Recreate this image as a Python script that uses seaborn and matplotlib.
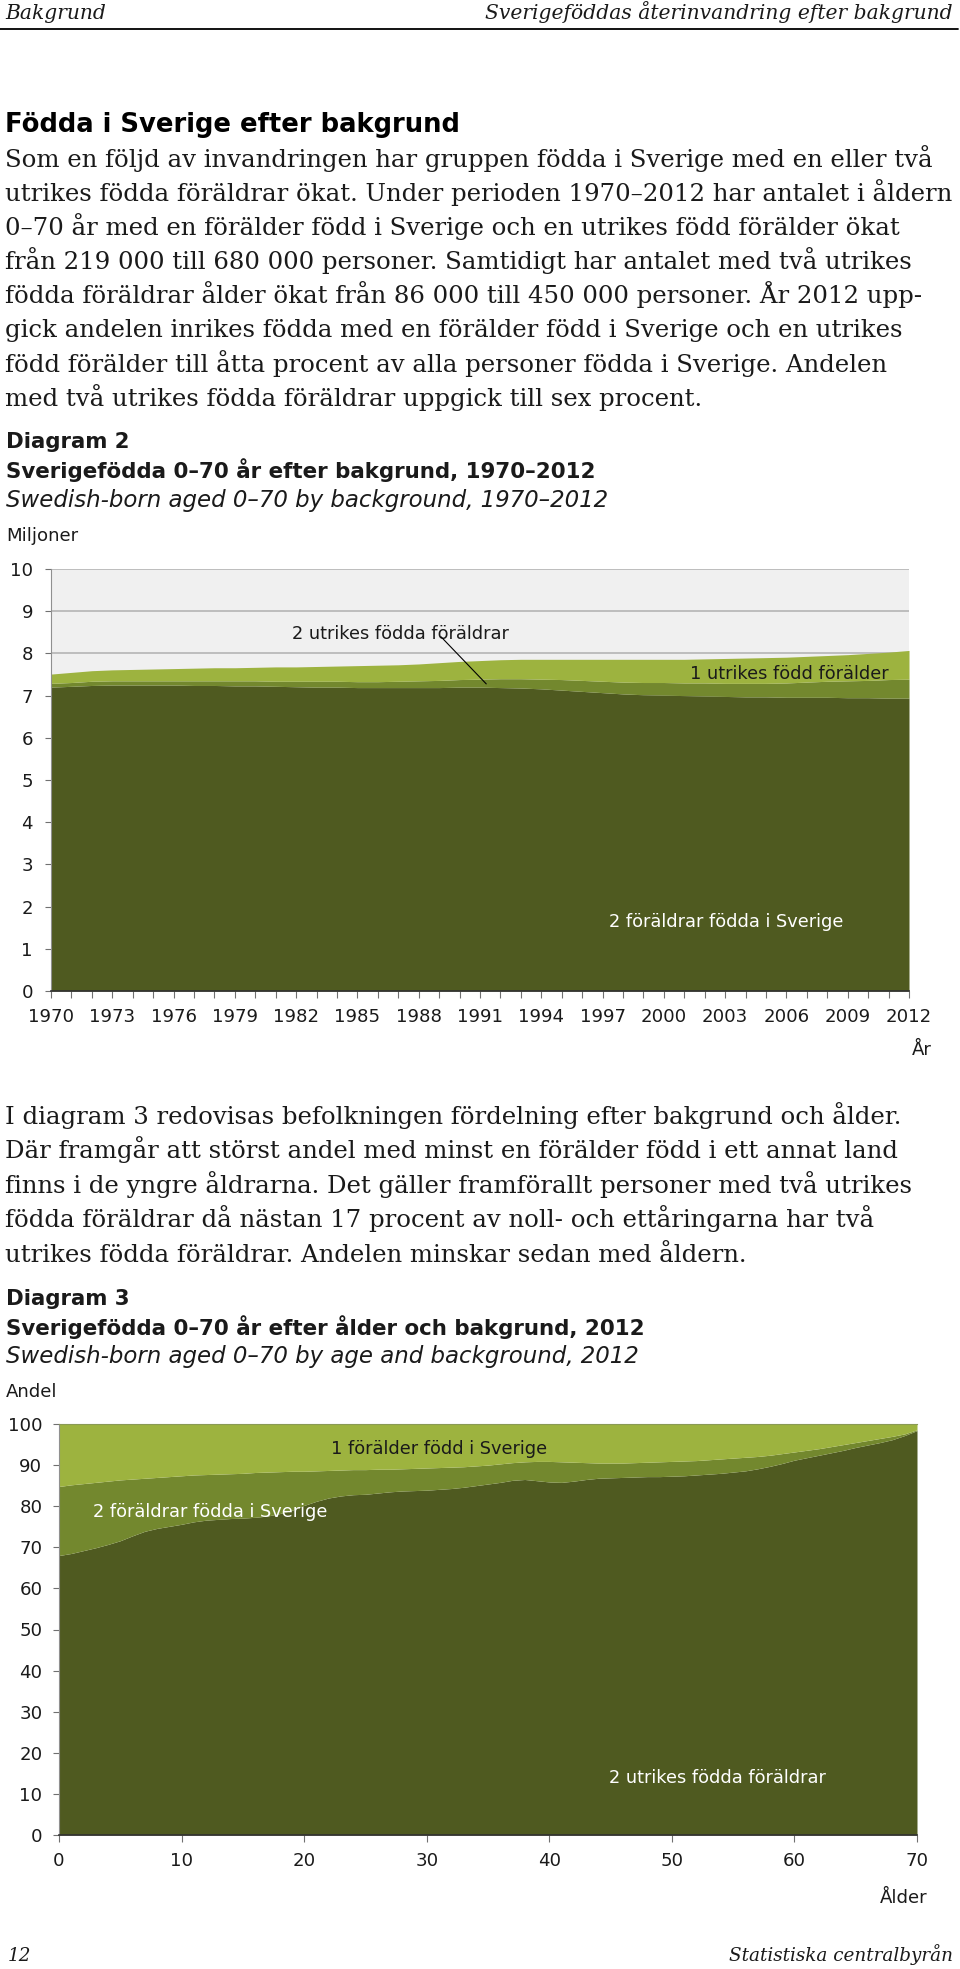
import numpy as np
import matplotlib
matplotlib.use("Agg")
import matplotlib.pyplot as plt
from matplotlib.lines import Line2D
from matplotlib.ticker import MultipleLocator
import seaborn as sns

# Diagram 2: Swedish-born aged 0-70 by background (millions)
years = list(range(1970, 2013))
two_swedish = [7.20, 7.22, 7.24, 7.25, 7.25, 7.25, 7.25, 7.24, 7.24, 7.23,
               7.23, 7.22, 7.21, 7.20, 7.20, 7.19, 7.19, 7.19, 7.19, 7.19,
               7.20, 7.20, 7.19, 7.18, 7.16, 7.13, 7.10, 7.07, 7.04, 7.02,
               7.01, 7.00, 6.99, 6.98, 6.97, 6.97, 6.96, 6.96, 6.96, 6.95,
               6.95, 6.94, 6.94]
two_foreign = [0.09, 0.09, 0.10, 0.10, 0.10, 0.10, 0.10, 0.11, 0.11, 0.12,
               0.12, 0.12, 0.13, 0.14, 0.14, 0.14, 0.14, 0.15, 0.16, 0.17,
               0.18, 0.19, 0.21, 0.22, 0.23, 0.25, 0.26, 0.27, 0.28, 0.29,
               0.30, 0.30, 0.31, 0.31, 0.32, 0.32, 0.34, 0.36, 0.38, 0.40,
               0.41, 0.44, 0.45]
one_foreign = [0.22, 0.24, 0.25, 0.26, 0.27, 0.28, 0.29, 0.30, 0.31, 0.31,
               0.32, 0.34, 0.34, 0.35, 0.36, 0.38, 0.39, 0.39, 0.40, 0.42,
               0.43, 0.44, 0.45, 0.46, 0.47, 0.48, 0.50, 0.52, 0.54, 0.55,
               0.55, 0.56, 0.57, 0.59, 0.60, 0.61, 0.61, 0.61, 0.61, 0.62,
               0.64, 0.65, 0.68]
year_ticks = list(range(1970, 2013, 3))

# Diagram 3: share by age, 2012 (upper edge of each layer, percent)
ages = list(range(0, 71))
layer1_top = [68.0, 68.5, 69.2, 69.9, 70.7, 71.6, 72.8, 73.9, 74.6, 75.1,
              75.6, 76.2, 76.6, 76.8, 77.0, 77.1, 77.3, 77.6, 78.2, 79.0,
              80.2, 81.2, 82.0, 82.5, 82.8, 82.9, 83.2, 83.5, 83.7, 83.8,
              83.9, 84.1, 84.3, 84.6, 85.0, 85.4, 85.8, 86.3, 86.5, 86.2,
              85.9, 85.8, 86.1, 86.5, 86.8, 86.9, 87.0, 87.1, 87.2, 87.2,
              87.3, 87.4, 87.6, 87.8, 88.0, 88.3, 88.6, 89.1, 89.7, 90.4,
              91.2, 91.8, 92.4, 93.0, 93.6, 94.3, 94.9, 95.5, 96.2, 97.2,
              98.4]
layer2_top = [84.8, 85.2, 85.5, 85.8, 86.1, 86.4, 86.6, 86.8, 87.0, 87.2,
              87.4, 87.6, 87.7, 87.8, 87.9, 88.0, 88.2, 88.3, 88.4, 88.5,
              88.5, 88.6, 88.7, 88.8, 88.9, 88.9, 89.0, 89.0, 89.1, 89.2,
              89.3, 89.4, 89.5, 89.6, 89.8, 90.0, 90.3, 90.6, 90.8, 90.9,
              90.9, 90.8, 90.7, 90.6, 90.5, 90.5, 90.5, 90.6, 90.7, 90.8,
              90.9, 91.0, 91.1, 91.3, 91.5, 91.7, 91.9, 92.1, 92.4, 92.8,
              93.2, 93.6, 94.0, 94.5, 95.0, 95.5, 96.0, 96.5, 97.0, 97.6,
              98.6]
layer3_top = [100] * len(ages)

#Style

sns.set_style("ticks")
plt.rcParams['font.family'] = ['DejaVu Sans']
greens = sns.color_palette(["#4f5a20", "#73882e", "#9db33f"])
W, H = 960, 1969

fig = plt.figure(figsize=(W / 100, H / 100), dpi=100)
fig.set_facecolor("white")


def fx(x):
    return x / W


def fy(y):
    return 1 - y / H


SERIF = "DejaVu Serif"
body_size = 17.6
ink = "#1a1a1a"
tick_size = 13.1

#Page header

fig.text(fx(5), fy(19), "Bakgrund", family=SERIF, style="italic", fontsize=14.6, color=ink)
fig.text(fx(953), fy(19), "Sverigeföddas återinvandring efter bakgrund", family=SERIF,
         style="italic", fontsize=14.6, color=ink, ha="right")
fig.add_artist(Line2D([0, 958 / W], [fy(29), fy(29)], color="black", lw=1.3))

#Text block 1

fig.text(fx(5), fy(132), "Födda i Sverige efter bakgrund", fontsize=18.6, weight="bold", color="black")
para1 = [
    "Som en följd av invandringen har gruppen födda i Sverige med en eller två",
    "utrikes födda föräldrar ökat. Under perioden 1970–2012 har antalet i åldern",
    "0–70 år med en förälder född i Sverige och en utrikes född förälder ökat",
    "från 219 000 till 680 000 personer. Samtidigt har antalet med två utrikes",
    "födda föräldrar ålder ökat från 86 000 till 450 000 personer. År 2012 upp-",
    "gick andelen inrikes födda med en förälder född i Sverige och en utrikes",
    "född förälder till åtta procent av alla personer födda i Sverige. Andelen",
    "med två utrikes födda föräldrar uppgick till sex procent.",
]
for i, line in enumerate(para1):
    fig.text(fx(5), fy(167 + 34.1 * i), line, family=SERIF, fontsize=body_size, color=ink)

#Diagram 2 headings

fig.text(fx(6), fy(448), "Diagram 2", fontsize=15.3, weight="bold", color=ink)
fig.text(fx(6), fy(478), "Sverigefödda 0–70 år efter bakgrund, 1970–2012", fontsize=15.4,
         weight="bold", color=ink)
fig.text(fx(6), fy(507), "Swedish-born aged 0–70 by background, 1970–2012", fontsize=16.5,
         style="italic", color=ink)
fig.text(fx(6), fy(541), "Miljoner", fontsize=13.1, color=ink)

#Diagram 2 chart

ax1 = fig.add_axes([fx(51), fy(991), (909 - 51) / W, (991 - 569) / H])
ax1.set_facecolor("#f0f0f0")
for v in range(1, 11):
    ax1.axhline(v, color="#b4b4b4", lw=1.2, zorder=0)
ax1.stackplot(years, two_swedish, two_foreign, one_foreign, colors=greens, lw=0, zorder=2)
ax1.set_xlim(1970, 2012)
ax1.set_ylim(0, 10)
ax1.set_xticks(year_ticks)
ax1.set_xticklabels([str(y) for y in year_ticks])
ax1.xaxis.set_minor_locator(MultipleLocator(1))
ax1.set_yticks(range(0, 11))
ax1.tick_params(axis="x", which="both", length=5, width=0.8, color="#707070", pad=7,
                labelsize=tick_size, labelcolor=ink)
ax1.tick_params(axis="y", length=4, width=0.8, color="#707070", pad=9, labelsize=tick_size, labelcolor=ink)
sns.despine(ax=ax1, top=True, right=True)
ax1.spines["left"].set_color("#909090")
ax1.spines["bottom"].set_color("#303030")
ax1.spines["bottom"].set_linewidth(1.2)
ax1.spines["bottom"].set_zorder(3)

ax1.text(1987.1, 8.34, "2 utrikes födda föräldrar", fontsize=12.8, ha="center", va="baseline", color=ink)
ax1.annotate("", xy=(1991.4, 7.23), xytext=(1989.0, 8.44),
             arrowprops=dict(arrowstyle="-", color="black", lw=0.8))
ax1.text(2011.0, 7.39, "1 utrikes född förälder", fontsize=12.8, ha="right", va="baseline", color=ink)
ax1.text(1997.3, 1.52, "2 föräldrar födda i Sverige", fontsize=12.8, ha="left", va="baseline",
         color="white")
fig.text(fx(932), fy(1055), "År", fontsize=13.1, ha="right", color=ink)

#Text block 2

para2 = [
    "I diagram 3 redovisas befolkningen fördelning efter bakgrund och ålder.",
    "Där framgår att störst andel med minst en förälder född i ett annat land",
    "finns i de yngre åldrarna. Det gäller framförallt personer med två utrikes",
    "födda föräldrar då nästan 17 procent av noll- och ettåringarna har två",
    "utrikes födda föräldrar. Andelen minskar sedan med åldern.",
]
for i, line in enumerate(para2):
    fig.text(fx(5), fy(1124 + 34.4 * i), line, family=SERIF, fontsize=body_size, color=ink)

#Diagram 3 headings

fig.text(fx(6), fy(1305), "Diagram 3", fontsize=15.3, weight="bold", color=ink)
fig.text(fx(6), fy(1335), "Sverigefödda 0–70 år efter ålder och bakgrund, 2012", fontsize=15.4,
         weight="bold", color=ink)
fig.text(fx(6), fy(1363), "Swedish-born aged 0–70 by age and background, 2012", fontsize=16.5,
         style="italic", color=ink)
fig.text(fx(6), fy(1397), "Andel", fontsize=13.1, color=ink)

#Diagram 3 chart

ax2 = fig.add_axes([fx(59), fy(1835), (917 - 59) / W, (1835 - 1424) / H])
ax2.fill_between(ages, 0, layer1_top, color=greens[0], lw=0)
ax2.fill_between(ages, layer1_top, layer2_top, color=greens[1], lw=0)
ax2.fill_between(ages, layer2_top, layer3_top, color=greens[2], lw=0)
ax2.set_xlim(0, 70)
ax2.set_ylim(0, 100)
ax2.set_xticks(range(0, 71, 10))
ax2.set_yticks(range(0, 101, 10))
ax2.tick_params(axis="x", length=5, width=0.8, color="#707070", pad=7, labelsize=tick_size, labelcolor=ink)
ax2.tick_params(axis="y", length=4, width=0.8, color="#707070", pad=8, labelsize=tick_size, labelcolor=ink)
sns.despine(ax=ax2, top=False, right=True)
ax2.spines["top"].set_color("#8a9a55")
ax2.spines["left"].set_color("#909090")
ax2.spines["bottom"].set_color("#303030")
ax2.spines["bottom"].set_linewidth(1.2)

ax2.text(22.2, 92.7, "1 förälder född i Sverige", fontsize=12.8, ha="left", va="baseline", color=ink)
ax2.text(2.8, 77.4, "2 föräldrar födda i Sverige", fontsize=12.8, ha="left", va="baseline", color="white")
ax2.text(44.9, 12.6, "2 utrikes födda föräldrar", fontsize=12.8, ha="left", va="baseline", color="white")
fig.text(fx(928), fy(1903), "Ålder", fontsize=13.1, ha="right", color=ink)

#Footer

fig.text(fx(8), fy(1961), "12", family=SERIF, style="italic", fontsize=13.2, color=ink)
fig.text(fx(953), fy(1961), "Statistiska centralbyrån", family=SERIF, style="italic", fontsize=13.2,
         color=ink, ha="right")

fig.savefig("out.png", dpi=100, facecolor="white")
